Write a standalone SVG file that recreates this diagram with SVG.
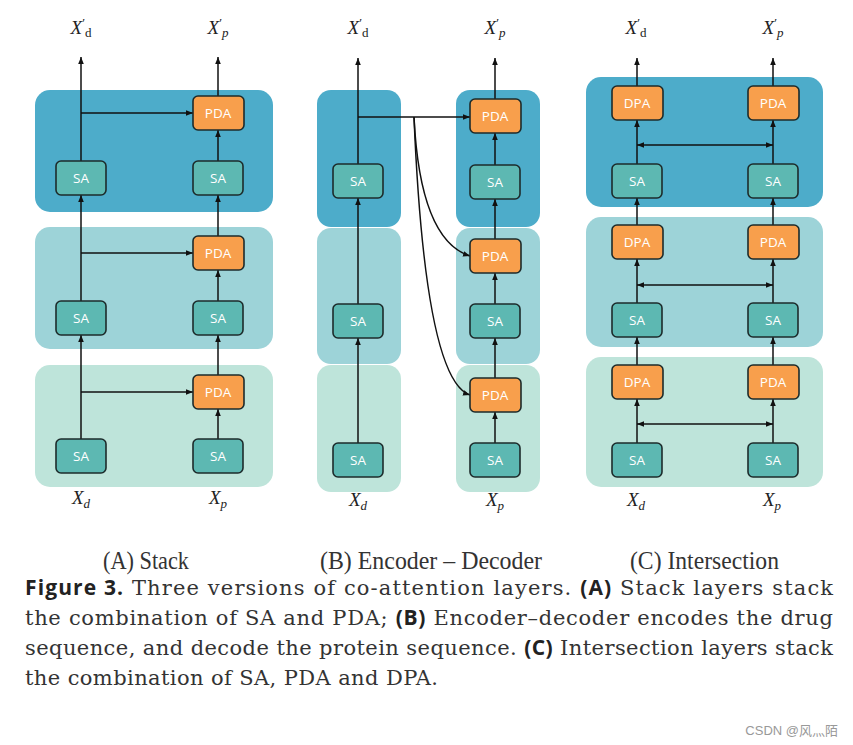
<svg xmlns="http://www.w3.org/2000/svg" width="853" height="745" viewBox="0 0 853 745">
<defs>
<style>
.bd{fill:#4dacca}
.bm{fill:#9dd3d8}
.bl{fill:#bee4da}
.sa{fill:#5db8b2;stroke:#1d2b2b;stroke-width:1.6}
.pa{fill:#f89f4c;stroke:#1d2b2b;stroke-width:1.6}
.bt{font-family:"Open Sans","Liberation Sans",sans-serif;font-size:13.5px;fill:#ffffff;text-anchor:middle}
.ln{fill:none;stroke:#111;stroke-width:1.5}
.ar{marker-end:url(#ah)}
.da{marker-end:url(#ah);marker-start:url(#ah)}
.mt{font-family:"Liberation Serif","DejaVu Serif",serif;font-size:19px;fill:#222;text-anchor:middle}
.cap{font-family:"Liberation Serif","DejaVu Serif",serif;font-size:25px;fill:#333}
.fc{font-family:"DejaVu Serif","Liberation Serif",serif;font-size:21px;fill:#333}
.fb{font-family:"Open Sans","Liberation Sans",sans-serif;font-weight:bold;fill:#222}
</style>
<marker id="ah" viewBox="0 0 10 10" refX="10" refY="5" markerWidth="7" markerHeight="7" markerUnits="userSpaceOnUse" orient="auto-start-reverse">
<path d="M0,1 L10,5 L0,9 z" fill="#111"/>
</marker>
</defs>
<rect width="853" height="745" fill="#ffffff"/>

<!-- Panel A bands -->
<g id="bandsA">
<rect class="bd" x="35" y="90" width="238" height="122" rx="15"/>
<rect class="bm" x="35" y="227" width="238" height="122" rx="15"/>
<rect class="bl" x="35" y="365" width="238" height="122" rx="15"/>
</g>
<!-- Panel B bands -->
<g id="bandsB">
<rect class="bd" x="317" y="90" width="84" height="137" rx="14"/>
<rect class="bm" x="317" y="228" width="84" height="136" rx="14"/>
<rect class="bl" x="317" y="365" width="84" height="127" rx="14"/>
<rect class="bd" x="456" y="90" width="84" height="137" rx="14"/>
<rect class="bm" x="456" y="228" width="84" height="136" rx="14"/>
<rect class="bl" x="456" y="365" width="84" height="127" rx="14"/>
</g>
<!-- Panel C bands -->
<g id="bandsC">
<rect class="bd" x="586" y="77" width="237" height="130" rx="15"/>
<rect class="bm" x="586" y="217" width="237" height="130" rx="15"/>
<rect class="bl" x="586" y="357" width="237" height="130" rx="15"/>
</g>

<g id="connectors">
<!-- A -->
<line class="ln ar" x1="81" y1="439" x2="81" y2="335"/>
<line class="ln ar" x1="81" y1="301" x2="81" y2="195"/>
<line class="ln ar" x1="81" y1="161" x2="81" y2="57"/>
<line class="ln ar" x1="81" y1="392" x2="193" y2="392"/>
<line class="ln ar" x1="81" y1="253" x2="193" y2="253"/>
<line class="ln ar" x1="81" y1="113" x2="193" y2="113"/>
<line class="ln ar" x1="218" y1="439" x2="218" y2="409"/>
<line class="ln ar" x1="218" y1="375" x2="218" y2="335"/>
<line class="ln ar" x1="218" y1="301" x2="218" y2="270"/>
<line class="ln ar" x1="218" y1="236" x2="218" y2="195"/>
<line class="ln ar" x1="218" y1="161" x2="218" y2="130"/>
<line class="ln ar" x1="218" y1="96" x2="218" y2="57"/>
<!-- B -->
<line class="ln ar" x1="358" y1="443" x2="358" y2="338"/>
<line class="ln ar" x1="358" y1="304" x2="358" y2="198"/>
<line class="ln ar" x1="358" y1="164" x2="358" y2="58"/>
<line class="ln ar" x1="358" y1="117" x2="470" y2="117"/>
<path class="ln ar" d="M414,117 Q420,240 470,256"/>
<path class="ln ar" d="M414,117 Q425,380 470,395"/>
<line class="ln ar" x1="495" y1="443" x2="495" y2="412"/>
<line class="ln ar" x1="495" y1="378" x2="495" y2="338"/>
<line class="ln ar" x1="495" y1="304" x2="495" y2="273"/>
<line class="ln ar" x1="495" y1="239" x2="495" y2="199"/>
<line class="ln ar" x1="495" y1="165" x2="495" y2="133"/>
<line class="ln ar" x1="495" y1="99" x2="495" y2="58"/>
<!-- C -->
<line class="ln ar" x1="637" y1="443" x2="637" y2="399"/>
<line class="ln ar" x1="637" y1="365" x2="637" y2="337"/>
<line class="ln ar" x1="637" y1="303" x2="637" y2="259"/>
<line class="ln ar" x1="637" y1="225" x2="637" y2="198"/>
<line class="ln ar" x1="637" y1="164" x2="637" y2="120"/>
<line class="ln ar" x1="637" y1="86" x2="637" y2="58"/>
<line class="ln ar" x1="773" y1="443" x2="773" y2="399"/>
<line class="ln ar" x1="773" y1="365" x2="773" y2="337"/>
<line class="ln ar" x1="773" y1="303" x2="773" y2="259"/>
<line class="ln ar" x1="773" y1="225" x2="773" y2="198"/>
<line class="ln ar" x1="773" y1="164" x2="773" y2="120"/>
<line class="ln ar" x1="773" y1="86" x2="773" y2="58"/>
<line class="ln da" x1="637" y1="145" x2="773" y2="145"/>
<line class="ln da" x1="637" y1="285" x2="773" y2="285"/>
<line class="ln da" x1="637" y1="424" x2="773" y2="424"/>
</g>

<!-- A nodes -->
<g id="A-SA-d3"><rect class="sa" x="56" y="161" width="50" height="34" rx="5"/><text class="bt" x="81" y="183">SA</text></g>
<g id="A-SA-p3"><rect class="sa" x="193" y="161" width="50" height="34" rx="5"/><text class="bt" x="218" y="183">SA</text></g>
<g id="A-PDA-3"><rect class="pa" x="193" y="96" width="51" height="34" rx="5"/><text class="bt" x="218" y="118">PDA</text></g>
<g id="A-SA-d2"><rect class="sa" x="56" y="301" width="50" height="34" rx="5"/><text class="bt" x="81" y="323">SA</text></g>
<g id="A-SA-p2"><rect class="sa" x="193" y="301" width="50" height="34" rx="5"/><text class="bt" x="218" y="323">SA</text></g>
<g id="A-PDA-2"><rect class="pa" x="193" y="236" width="51" height="34" rx="5"/><text class="bt" x="218" y="258">PDA</text></g>
<g id="A-SA-d1"><rect class="sa" x="56" y="439" width="50" height="34" rx="5"/><text class="bt" x="81" y="461">SA</text></g>
<g id="A-SA-p1"><rect class="sa" x="193" y="439" width="50" height="34" rx="5"/><text class="bt" x="218" y="461">SA</text></g>
<g id="A-PDA-1"><rect class="pa" x="193" y="375" width="51" height="34" rx="5"/><text class="bt" x="218" y="397">PDA</text></g>

<!-- B nodes -->
<g id="B-SA-d3"><rect class="sa" x="333" y="164" width="50" height="34" rx="5"/><text class="bt" x="358" y="186">SA</text></g>
<g id="B-SA-d2"><rect class="sa" x="333" y="304" width="50" height="34" rx="5"/><text class="bt" x="358" y="326">SA</text></g>
<g id="B-SA-d1"><rect class="sa" x="333" y="443" width="50" height="34" rx="5"/><text class="bt" x="358" y="465">SA</text></g>
<g id="B-PDA-3"><rect class="pa" x="470" y="99" width="51" height="34" rx="5"/><text class="bt" x="495" y="121">PDA</text></g>
<g id="B-SA-p3"><rect class="sa" x="470" y="165" width="50" height="34" rx="5"/><text class="bt" x="495" y="187">SA</text></g>
<g id="B-PDA-2"><rect class="pa" x="470" y="239" width="51" height="34" rx="5"/><text class="bt" x="495" y="261">PDA</text></g>
<g id="B-SA-p2"><rect class="sa" x="470" y="304" width="50" height="34" rx="5"/><text class="bt" x="495" y="326">SA</text></g>
<g id="B-PDA-1"><rect class="pa" x="470" y="378" width="51" height="34" rx="5"/><text class="bt" x="495" y="400">PDA</text></g>
<g id="B-SA-p1"><rect class="sa" x="470" y="443" width="50" height="34" rx="5"/><text class="bt" x="495" y="465">SA</text></g>

<!-- C nodes -->
<g id="C-DPA-3"><rect class="pa" x="612" y="86" width="51" height="34" rx="5"/><text class="bt" x="637" y="108">DPA</text></g>
<g id="C-PDA-3"><rect class="pa" x="748" y="86" width="51" height="34" rx="5"/><text class="bt" x="773" y="108">PDA</text></g>
<g id="C-SA-d3"><rect class="sa" x="612" y="164" width="50" height="34" rx="5"/><text class="bt" x="637" y="186">SA</text></g>
<g id="C-SA-p3"><rect class="sa" x="748" y="164" width="50" height="34" rx="5"/><text class="bt" x="773" y="186">SA</text></g>
<g id="C-DPA-2"><rect class="pa" x="612" y="225" width="51" height="34" rx="5"/><text class="bt" x="637" y="247">DPA</text></g>
<g id="C-PDA-2"><rect class="pa" x="748" y="225" width="51" height="34" rx="5"/><text class="bt" x="773" y="247">PDA</text></g>
<g id="C-SA-d2"><rect class="sa" x="612" y="303" width="50" height="34" rx="5"/><text class="bt" x="637" y="325">SA</text></g>
<g id="C-SA-p2"><rect class="sa" x="748" y="303" width="50" height="34" rx="5"/><text class="bt" x="773" y="325">SA</text></g>
<g id="C-DPA-1"><rect class="pa" x="612" y="365" width="51" height="34" rx="5"/><text class="bt" x="637" y="387">DPA</text></g>
<g id="C-PDA-1"><rect class="pa" x="748" y="365" width="51" height="34" rx="5"/><text class="bt" x="773" y="387">PDA</text></g>
<g id="C-SA-d1"><rect class="sa" x="612" y="443" width="50" height="34" rx="5"/><text class="bt" x="637" y="465">SA</text></g>
<g id="C-SA-p1"><rect class="sa" x="748" y="443" width="50" height="34" rx="5"/><text class="bt" x="773" y="465">SA</text></g>

<!-- math labels -->
<g id="labels">
<text class="mt" x="81" y="34"><tspan font-style="italic">X</tspan><tspan font-size="13" dy="-7">′</tspan><tspan font-size="13" dy="10">d</tspan></text>
<text class="mt" x="218" y="34"><tspan font-style="italic">X</tspan><tspan font-size="13" dy="-7">′</tspan><tspan font-size="13" font-style="italic" dy="10">p</tspan></text>
<text class="mt" x="358" y="34"><tspan font-style="italic">X</tspan><tspan font-size="13" dy="-7">′</tspan><tspan font-size="13" dy="10">d</tspan></text>
<text class="mt" x="495" y="34"><tspan font-style="italic">X</tspan><tspan font-size="13" dy="-7">′</tspan><tspan font-size="13" font-style="italic" dy="10">p</tspan></text>
<text class="mt" x="636" y="34"><tspan font-style="italic">X</tspan><tspan font-size="13" dy="-7">′</tspan><tspan font-size="13" dy="10">d</tspan></text>
<text class="mt" x="773" y="34"><tspan font-style="italic">X</tspan><tspan font-size="13" dy="-7">′</tspan><tspan font-size="13" font-style="italic" dy="10">p</tspan></text>
<text class="mt" x="81" y="504" font-style="italic">X<tspan font-size="13" dy="4">d</tspan></text>
<text class="mt" x="218" y="504" font-style="italic">X<tspan font-size="13" dy="4">p</tspan></text>
<text class="mt" x="358" y="506" font-style="italic">X<tspan font-size="13" dy="4">d</tspan></text>
<text class="mt" x="495" y="506" font-style="italic">X<tspan font-size="13" dy="4">p</tspan></text>
<text class="mt" x="636" y="506" font-style="italic">X<tspan font-size="13" dy="4">d</tspan></text>
<text class="mt" x="772" y="506" font-style="italic">X<tspan font-size="13" dy="4">p</tspan></text>
</g>

<g id="captions">
<text class="cap" x="103" y="569" textLength="86" lengthAdjust="spacingAndGlyphs">(A) Stack</text>
<text class="cap" x="320" y="569" textLength="222" lengthAdjust="spacingAndGlyphs">(B) Encoder – Decoder</text>
<text class="cap" x="630" y="569" textLength="149" lengthAdjust="spacingAndGlyphs">(C) Intersection</text>
</g>

<g id="figcaption" class="fc">
<text x="25" y="595" textLength="808" lengthAdjust="spacing"><tspan class="fb">Figure 3.</tspan> Three versions of co-attention layers. <tspan class="fb">(A)</tspan> Stack layers stack</text>
<text x="25" y="625" textLength="808" lengthAdjust="spacing">the combination of SA and PDA; <tspan class="fb">(B)</tspan> Encoder–decoder encodes the drug</text>
<text x="25" y="655" textLength="808" lengthAdjust="spacing">sequence, and decode the protein sequence. <tspan class="fb">(C)</tspan> Intersection layers stack</text>
<text x="25" y="685" textLength="413" lengthAdjust="spacing">the combination of SA, PDA and DPA.</text>
</g>

<text x="838" y="735" text-anchor="end" font-family="Liberation Sans, Noto Sans CJK SC, sans-serif" font-size="13" fill="#999">CSDN @风灬陌</text>
</svg>
